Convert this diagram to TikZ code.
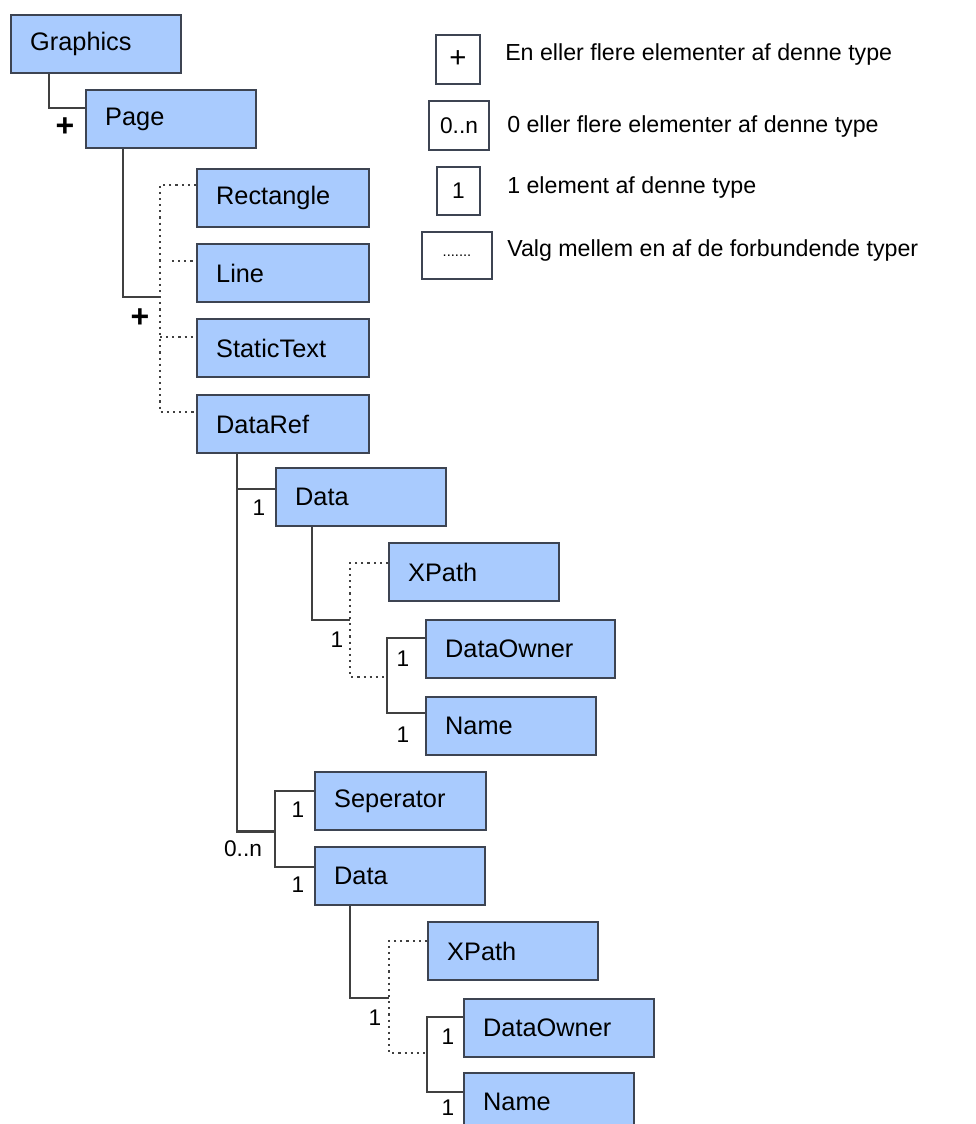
\documentclass[tikz,border=0pt]{standalone}
\usepackage{fontspec}
\setmainfont{Liberation Sans}
\usetikzlibrary{calc}
\definecolor{boxfill}{HTML}{A9CBFE}
\definecolor{boxline}{HTML}{3D4452}
\definecolor{conn}{HTML}{404040}
\begin{document}
\begin{tikzpicture}[x=0.75pt,y=-0.75pt,
  box/.style={draw=boxline, fill=boxfill, line width=1.8pt, anchor=north west, rectangle,
    minimum height=43.5pt, inner xsep=14.25pt, inner ysep=0pt, align=left,
    font=\fontsize{19}{22}\selectfont},
  solidc/.style={draw=conn, line width=1.8pt},
  dotc/.style={draw=conn, line width=1.8pt, dash pattern=on 1.6pt off 3pt},
  mult/.style={font=\fontsize{17}{20}\selectfont, inner sep=0pt},
  plus/.style={font=\fontsize{24}{24}\selectfont\bfseries, inner sep=0pt},
  legbox/.style={draw=boxline, line width=1.5pt, anchor=north west, inner sep=0pt,
    font=\fontsize{17}{20}\selectfont},
  legtext/.style={anchor=west, inner sep=0pt, font=\fontsize{17.4}{20}\selectfont}]
\path[use as bounding box, clip] (0,0) rectangle (975,1124);

% boxes
\node[box, text width=99pt]     (G)   at (10,14)   {Graphics};
\node[box, text width=99pt]     (P)   at (85,89)   {Page};
\node[box, text width=100.5pt]  (R)   at (196,168) {Rectangle};
\node[box, text width=100.5pt]  (L)   at (196,243) {Line};
\node[box, text width=100.5pt]  (ST)  at (196,318) {StaticText};
\node[box, text width=100.5pt]  (DR)  at (196,394) {DataRef};
\node[box, text width=99pt]     (D1)  at (275,467) {Data};
\node[box, text width=99pt]     (X1)  at (388,542) {XPath};
\node[box, text width=113.25pt] (DO1) at (425,619) {DataOwner};
\node[box, text width=99pt]     (N1)  at (425,696) {Name};
\node[box, text width=99.75pt]  (S)   at (314,771) {Seperator};
\node[box, text width=99pt]     (D2)  at (314,846) {Data};
\node[box, text width=99pt]     (X2)  at (427,921) {XPath};
\node[box, text width=114pt]    (DO2) at (463,998) {DataOwner};
\node[box, text width=99pt]     (N2)  at (463,1072) {Name};

% connectors
\draw[solidc] ($(G.south west)+(39,0)$) |- ($(P.north west)+(0,19)$);
\coordinate (j1) at (160,297);
\draw[solidc] ($(P.south west)+(38,0)$) |- (j1);
\draw[dotc] ($(R.north west)+(0,17)$) -| ($(DR.north west)+(-36,18)$) -- ($(DR.north west)+(0,18)$);
\coordinate (lstub) at (172,261);
\draw[dotc] (lstub) -- ($(L.north west)+(0,18)$);
\draw[dotc] ($(ST.north west)+(-36,19)$) -- ($(ST.north west)+(0,19)$);

\draw[solidc] ($(DR.south west)+(41,0)$) |- ($(S.south west)+(-39,0)$);
\draw[solidc] ($(D1.north west)+(-38,22)$) -- ($(D1.north west)+(0,22)$);
\draw[solidc] ($(S.north west)+(0,20)$) -| ($(S.south west)+(-39,0)$) |- ($(D2.north west)+(0,21)$);

\draw[solidc] ($(D1.south west)+(37,0)$) |- ($(X1.north west)+(-38,78)$);
\draw[dotc] ($(X1.north west)+(0,21)$) -| ($(DO1.north west)+(-75,58)$) -- ($(DO1.north west)+(-38,58)$);
\draw[solidc] ($(DO1.north west)+(0,19)$) -| ($(N1.north west)+(-38,17)$) -- ($(N1.north west)+(0,17)$);

\draw[solidc] ($(D2.south west)+(36,0)$) |- ($(X2.north west)+(-38,77)$);
\draw[dotc] ($(X2.north west)+(0,20)$) -| ($(DO2.north west)+(-74,55)$) -- ($(DO2.north west)+(-36,55)$);
\draw[solidc] ($(DO2.north west)+(0,19)$) -| ($(N2.north west)+(-36,20)$) -- ($(N2.north west)+(0,20)$);

% multiplicities
\node[plus] (m1)  at (65,127)  {+};
\node[plus] (m2)  at (140,318) {+};
\node[mult] (m3)  at (259,508) {1};
\node[mult] (m4)  at (337,640) {1};
\node[mult] (m5)  at (403,659) {1};
\node[mult] (m6)  at (403,735) {1};
\node[mult] (m7)  at (243,849) {0..n};
\node[mult] (m8)  at (298,810) {1};
\node[mult] (m9)  at (298,885) {1};
\node[mult] (m10) at (375,1018) {1};
\node[mult] (m11) at (448,1037) {1};
\node[mult] (m12) at (448,1108) {1};

% legend
\node[legbox, minimum width=33pt, minimum height=36.75pt, font=\fontsize{22}{22}\selectfont] (lg1) at (435,34)  {+};
\node[legbox, minimum width=45pt, minimum height=36.75pt] (lg2) at (428,100) {0..n};
\node[legbox, minimum width=32.25pt, minimum height=36pt] (lg3) at (436,166) {1};
\node[legbox, minimum width=52.5pt, minimum height=35.25pt, font=\fontsize{11}{12}\selectfont] (lg4) at (421,231) {.......};
\node[legtext] (t1) at (505,55)  {En eller flere elementer af denne type};
\node[legtext] (t2) at (507,127) {0 eller flere elementer af denne type};
\node[legtext] (t3) at (507,188) {1 element af denne type};
\node[legtext] (t4) at (507,250) {Valg mellem en af de forbundende typer};
\end{tikzpicture}
\end{document}
